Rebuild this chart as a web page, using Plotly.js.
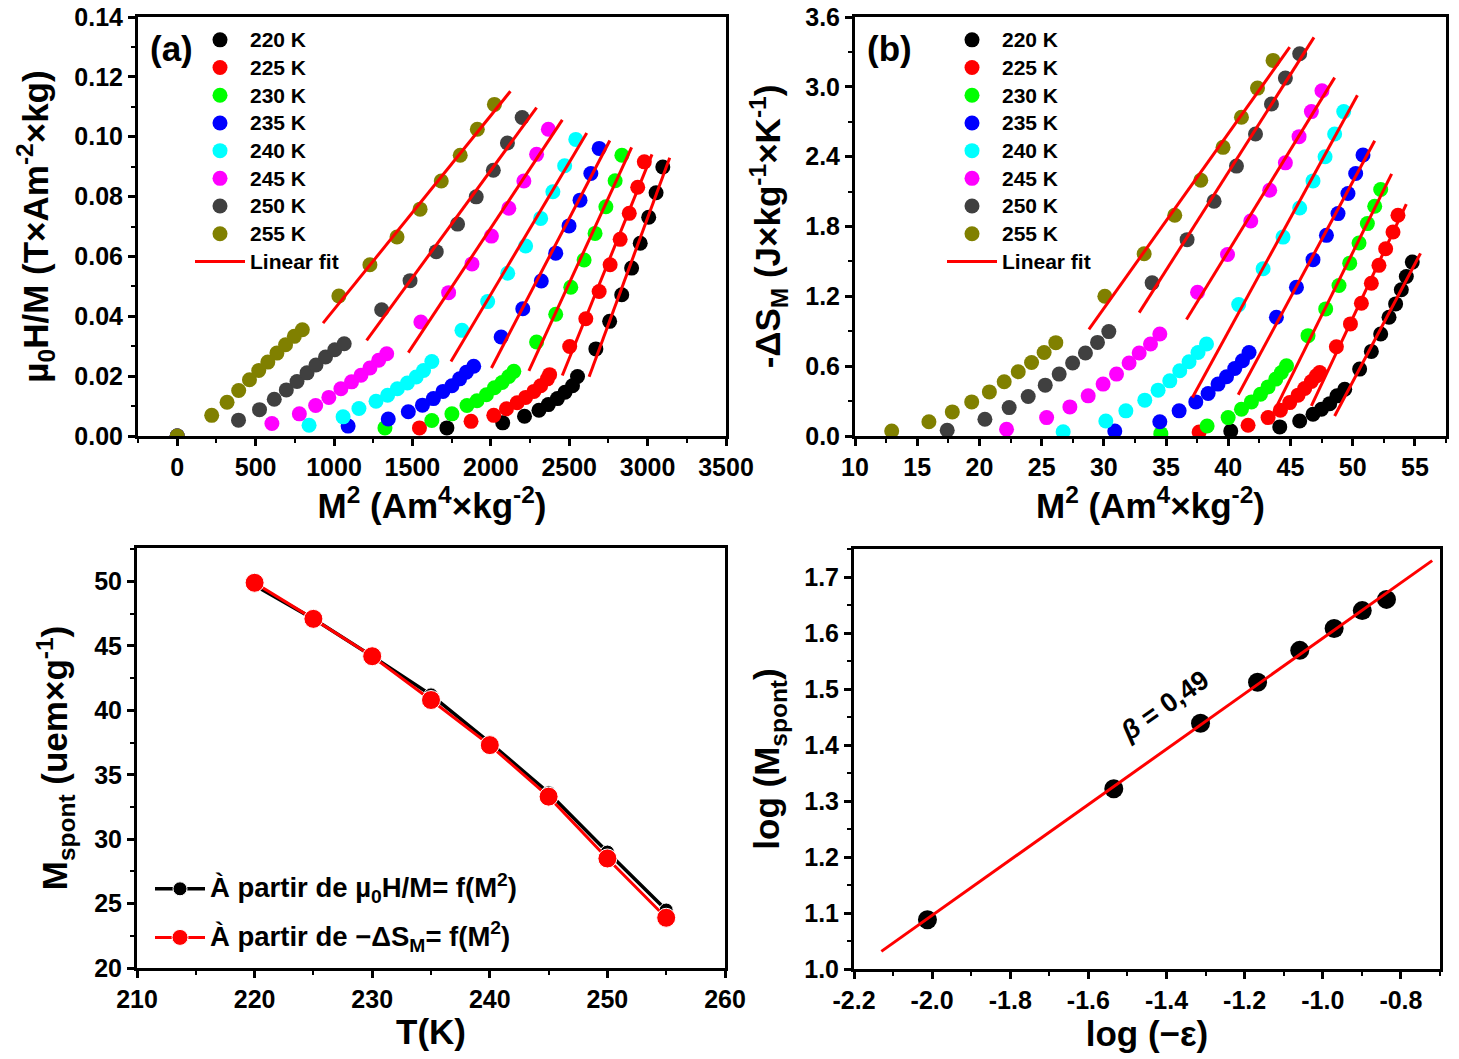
<!DOCTYPE html>
<html>
<head>
<meta charset="utf-8">
<script src="https://cdn.plot.ly/plotly-3.0.1.min.js"></script>
<style>
  html, body { margin: 0; padding: 0; background: #fff; }
  #chart { width: 1459px; height: 1059px; }
</style>
</head>
<body>
<div id="chart"></div>
<script>
// temperatures and marker colours shared by (a) and (b)
const temps = ['220 K', '225 K', '230 K', '235 K', '240 K', '245 K', '250 K', '255 K'];
const tempColors = ['#000000', '#ff0000', '#00ff00', '#0000ff', '#00ffff', '#ff00ff', '#404040', '#808000'];

// (a) mu0H/M vs M^2
const aX = [
  [0, 1720, 2076, 2215, 2307, 2367, 2425, 2473, 2521, 2553, 2670, 2758, 2835, 2898, 2953, 3007, 3054, 3097],
  [0, 1545, 1874, 2019, 2100, 2168, 2222, 2275, 2318, 2361, 2375, 2503, 2606, 2691, 2761, 2825, 2883, 2937, 2979],
  [0, 1325, 1624, 1752, 1848, 1912, 1972, 2023, 2072, 2115, 2147, 2292, 2414, 2510, 2595, 2665, 2734, 2793, 2836],
  [0, 1090, 1346, 1474, 1564, 1634, 1695, 1752, 1801, 1844, 1891, 2066, 2204, 2322, 2414, 2499, 2569, 2638, 2691],
  [0, 841, 1058, 1159, 1268, 1342, 1404, 1468, 1524, 1571, 1624, 1816, 1980, 2108, 2222, 2318, 2396, 2471, 2542],
  [0, 604, 779, 883, 967, 1044, 1112, 1172, 1229, 1285, 1336, 1554, 1731, 1880, 2004, 2115, 2211, 2292, 2367],
  [0, 391, 525, 619, 696, 764, 828, 885, 946, 1005, 1065, 1304, 1485, 1652, 1788, 1907, 2016, 2106, 2200],
  [0, 220, 318, 392, 461, 520, 578, 636, 691, 747, 798, 1031, 1229, 1402, 1549, 1684, 1805, 1914, 2023]
];
const aY = [
  [0, 0.0027, 0.0044, 0.0066, 0.0086, 0.0105, 0.0125, 0.0146, 0.0168, 0.0199, 0.0291, 0.0383, 0.0472, 0.0561, 0.0644, 0.0731, 0.0813, 0.0899],
  [0, 0.0027, 0.0049, 0.0069, 0.0091, 0.0111, 0.0129, 0.0149, 0.0168, 0.0191, 0.0205, 0.0299, 0.0392, 0.0483, 0.0572, 0.0657, 0.0744, 0.0831, 0.0916],
  [0, 0.0027, 0.0052, 0.0074, 0.0102, 0.0118, 0.0138, 0.0161, 0.0179, 0.0199, 0.0216, 0.0314, 0.0407, 0.0497, 0.0588, 0.0677, 0.0766, 0.0853, 0.0938],
  [0, 0.0033, 0.0057, 0.0081, 0.0103, 0.0125, 0.0149, 0.0168, 0.0191, 0.0213, 0.0233, 0.0331, 0.0425, 0.0518, 0.0611, 0.0702, 0.0788, 0.0877, 0.0961],
  [0, 0.0036, 0.0064, 0.0092, 0.0116, 0.0136, 0.0158, 0.0177, 0.0197, 0.0219, 0.0249, 0.0353, 0.0449, 0.0544, 0.0635, 0.0727, 0.0816, 0.0903, 0.0991],
  [0, 0.0042, 0.0074, 0.0102, 0.0129, 0.0158, 0.0181, 0.0203, 0.0227, 0.0253, 0.0275, 0.0381, 0.0479, 0.0575, 0.0668, 0.0761, 0.0852, 0.0941, 0.1025],
  [0, 0.0053, 0.0088, 0.0123, 0.0154, 0.0182, 0.0211, 0.0237, 0.0264, 0.0288, 0.0308, 0.0422, 0.0519, 0.0616, 0.0708, 0.0799, 0.0888, 0.0979, 0.1064],
  [0, 0.0069, 0.0113, 0.0152, 0.0188, 0.0219, 0.0247, 0.0277, 0.0305, 0.0333, 0.0355, 0.0468, 0.0572, 0.0665, 0.0758, 0.0852, 0.0938, 0.1025, 0.1108]
];
const aFitFrom = [10, 11, 11, 11, 11, 11, 11, 11];
const aFitRange = [[2627, 3141], [2456, 3028], [2243, 2898], [2004, 2759], [1746, 2612], [1474, 2456], [1208, 2292], [930, 2125]];

// (b) -dS_M vs M^2
const bX = [
  [40.20, 44.14, 45.74, 46.81, 47.49, 48.15, 48.74, 49.36, 50.56, 51.50, 52.25, 52.92, 53.45, 53.91, 54.31, 54.79],
  [37.66, 41.59, 43.20, 44.19, 44.94, 45.61, 46.14, 46.68, 47.08, 47.35, 48.69, 49.82, 50.70, 51.50, 52.11, 52.65, 53.24, 53.64],
  [34.58, 38.30, 39.99, 41.06, 41.86, 42.59, 43.20, 43.82, 44.27, 44.68, 46.41, 47.83, 48.90, 49.76, 50.51, 51.18, 51.77, 52.25],
  [30.88, 34.50, 36.05, 37.39, 38.38, 39.18, 39.86, 40.52, 41.14, 41.67, 43.87, 45.48, 46.81, 47.89, 48.82, 49.62, 50.24, 50.83],
  [26.73, 30.16, 31.77, 33.29, 34.36, 35.30, 36.10, 36.85, 37.57, 38.25, 40.84, 42.80, 44.40, 45.74, 46.81, 47.78, 48.55, 49.28],
  [22.18, 25.40, 27.27, 28.74, 29.94, 31.02, 32.03, 32.84, 33.75, 34.50, 37.53, 39.94, 41.81, 43.33, 44.59, 45.69, 46.68, 47.53],
  [17.41, 20.44, 22.39, 23.92, 25.29, 26.41, 27.49, 28.52, 29.49, 30.40, 33.88, 36.69, 38.86, 40.66, 42.19, 43.47, 44.59, 45.74],
  [12.95, 15.94, 17.82, 19.38, 20.80, 21.99, 23.12, 24.19, 25.20, 26.14, 30.08, 33.24, 35.70, 37.79, 39.58, 41.06, 42.35, 43.60]
];
const bY = [
  [0.043, 0.078, 0.129, 0.187, 0.230, 0.278, 0.345, 0.402, 0.575, 0.727, 0.877, 1.020, 1.135, 1.256, 1.371, 1.494],
  [0.034, 0.092, 0.158, 0.222, 0.287, 0.351, 0.408, 0.468, 0.517, 0.546, 0.767, 0.963, 1.141, 1.313, 1.466, 1.609, 1.753, 1.897],
  [0.020, 0.086, 0.158, 0.230, 0.293, 0.359, 0.422, 0.489, 0.546, 0.603, 0.862, 1.092, 1.293, 1.485, 1.658, 1.825, 1.974, 2.118],
  [0.043, 0.123, 0.216, 0.293, 0.365, 0.446, 0.509, 0.580, 0.647, 0.718, 1.020, 1.278, 1.515, 1.724, 1.911, 2.084, 2.256, 2.414],
  [0.037, 0.129, 0.216, 0.308, 0.394, 0.474, 0.560, 0.638, 0.718, 0.791, 1.129, 1.437, 1.709, 1.959, 2.192, 2.399, 2.595, 2.787],
  [0.058, 0.158, 0.250, 0.345, 0.446, 0.532, 0.627, 0.713, 0.791, 0.877, 1.235, 1.560, 1.847, 2.112, 2.347, 2.572, 2.787, 2.966],
  [0.049, 0.144, 0.244, 0.339, 0.437, 0.532, 0.627, 0.713, 0.804, 0.897, 1.316, 1.687, 2.017, 2.319, 2.595, 2.853, 3.075, 3.284],
  [0.043, 0.123, 0.207, 0.293, 0.379, 0.466, 0.552, 0.632, 0.718, 0.802, 1.201, 1.566, 1.897, 2.198, 2.480, 2.739, 2.989, 3.227]
];
const bFitFrom = [7, 10, 10, 10, 10, 10, 10, 10];
const bFitRange = [[48.55, 55.45], [46.68, 54.31], [43.47, 53.13], [40.80, 51.77], [37.12, 50.38], [36.64, 48.55], [32.84, 46.89], [28.80, 44.94]];

// (c) spontaneous magnetisation
const cT = [220, 225, 230, 235, 240, 245, 250, 255];
const cFromH = [49.7, 47.1, 44.2, 41.2, 37.5, 33.6, 29.0, 24.5];
const cFromS = [49.9, 47.1, 44.2, 40.8, 37.3, 33.3, 28.5, 23.9];

// (d) log-log plot
const dLogEps = [-2.012, -1.535, -1.313, -1.167, -1.059, -0.971, -0.899, -0.837];
const dLogM = [1.088, 1.322, 1.439, 1.512, 1.569, 1.608, 1.640, 1.660];
const dFitRange = [-2.13, -0.72];
const dTickVals = [-2.2, -2.0, -1.8, -1.6, -1.4, -1.2, -1.0, -0.8];
const dTickText = ['-2.2', '-2.0', '-1.8', '-1.6', '-1.4', '-1.2', '-1.0', '-0.8'];

const FONT = '"Liberation Sans", Arial, sans-serif';
const W = 1459, H = 1059;

function linfit(xs, ys) {
  const n = xs.length;
  let sx = 0, sy = 0, sxx = 0, sxy = 0;
  for (let i = 0; i < n; i++) { sx += xs[i]; sy += ys[i]; sxx += xs[i] * xs[i]; sxy += xs[i] * ys[i]; }
  const slope = (n * sxy - sx * sy) / (n * sxx - sx * sx);
  return { slope: slope, icpt: (sy - slope * sx) / n };
}

// legend row height follows legend font size, so bigger text goes in a span
function big(txt, px) { return '<span style="font-size:' + px + 'px">' + txt + '</span>'; }

const traces = [];

function addArrott(X, Y, fitFrom, fitRange, xa, ya, legendId) {
  temps.forEach((t, i) => {
    traces.push({
      type: 'scatter', mode: 'markers', x: X[i], y: Y[i], name: big(t, 21),
      xaxis: xa, yaxis: ya, legend: legendId,
      marker: { color: tempColors[i], size: 15 },
      hoverinfo: 'skip'
    });
  });
  temps.forEach((t, i) => {
    const f = linfit(X[i].slice(fitFrom[i]), Y[i].slice(fitFrom[i]));
    traces.push({
      type: 'scatter', mode: 'lines',
      x: fitRange[i], y: fitRange[i].map(v => f.icpt + f.slope * v),
      name: big('Linear fit', 21), showlegend: i === 0,
      xaxis: xa, yaxis: ya, legend: legendId,
      line: { color: '#ff0000', width: 3 },
      hoverinfo: 'skip'
    });
  });
}

addArrott(aX, aY, aFitFrom, aFitRange, 'x', 'y', 'legend');
addArrott(bX, bY, bFitFrom, bFitRange, 'x2', 'y2', 'legend2');

traces.push({
  type: 'scatter', mode: 'lines+markers', x: cT, y: cFromH,
  name: big('À partir de µ<sub>0</sub>H/M= f(M<sup>2</sup>)', 27.5),
  xaxis: 'x3', yaxis: 'y3', legend: 'legend3', legendgroup: 'h',
  line: { color: '#000000', width: 3.5 },
  marker: { color: '#000000', size: 14, line: { color: '#ffffff', width: 1 } }
});
traces.push({
  type: 'scatter', mode: 'lines+markers', x: cT, y: cFromS,
  name: big('À partir de −ΔS<sub>M</sub>= f(M<sup>2</sup>)', 27.5),
  xaxis: 'x3', yaxis: 'y3', legend: 'legend3', legendgroup: 's',
  line: { color: '#ff0000', width: 3 },
  marker: { color: '#ff0000', size: 19, line: { color: '#ffffff', width: 1 } }
});

const dFit = linfit(dLogEps, dLogM);
traces.push({
  type: 'scatter', mode: 'markers', x: dLogEps, y: dLogM, showlegend: false,
  xaxis: 'x4', yaxis: 'y4',
  marker: { color: '#000000', size: 19 }
});
traces.push({
  type: 'scatter', mode: 'lines', x: dFitRange, y: dFitRange.map(v => dFit.icpt + dFit.slope * v),
  showlegend: false, xaxis: 'x4', yaxis: 'y4',
  line: { color: '#ff0000', width: 3 }
});

// frame positions in page pixels
function domX(l, r) { return [l / W, r / W]; }
function domY(t, b) { return [1 - b / H, 1 - t / H]; }

function axis(extra) {
  return Object.assign({
    showline: true, linecolor: '#000', linewidth: 3, mirror: true,
    ticks: 'outside', ticklen: 7, tickwidth: 3, tickcolor: '#000',
    showgrid: false, zeroline: false, automargin: false,
    tickfont: { family: FONT, size: 25, color: '#000', weight: 'bold' }
  }, extra);
}
function ttl(text, standoff) {
  return { text: text, standoff: standoff, font: { family: FONT, size: 35, color: '#000', weight: 'bold' } };
}
function minor(d) { return { dtick: d, ticks: 'outside', ticklen: 4, tickwidth: 2, tickcolor: '#000' }; }

const m2Title = 'M<sup>2</sup> (Am<sup>4</sup>×kg<sup>-2</sup>)';
const legFont = { family: FONT, size: 19, color: '#000', weight: 'bold' };

const layout = {
  width: W, height: H,
  margin: { l: 0, r: 0, t: 0, b: 0 },
  paper_bgcolor: '#fff', plot_bgcolor: '#fff',
  font: { family: FONT, color: '#000' },
  xaxis: axis({ domain: domX(138, 726), anchor: 'y', range: [-250, 3500], dtick: 500, minor: minor(250),
    title: ttl(m2Title, 14) }),
  yaxis: axis({ domain: domY(17, 436), anchor: 'x', range: [0, 0.14], dtick: 0.02, tickformat: '.2f', minor: minor(0.01),
    title: ttl('µ<sub>0</sub>H/M (T×Am<sup>-2</sup>×kg)', 16) }),
  xaxis2: axis({ domain: domX(855, 1446), anchor: 'y2', range: [10, 57.5], dtick: 5, minor: minor(2.5),
    title: ttl(m2Title, 14) }),
  yaxis2: axis({ domain: domY(17, 436), anchor: 'x2', range: [0, 3.6], dtick: 0.6, tickformat: '.1f', minor: minor(0.3),
    title: ttl('-ΔS<sub>M</sub> (J×kg<sup>-1</sup>×K<sup>-1</sup>)', 14) }),
  xaxis3: axis({ domain: domX(137, 725), anchor: 'y3', range: [210, 260], dtick: 10, minor: minor(5),
    title: ttl('T(K)', 8) }),
  yaxis3: axis({ domain: domY(548, 968), anchor: 'x3', range: [20, 52.6], dtick: 5, minor: minor(2.5),
    title: ttl('M<sub>spont</sub> (uem×g<sup>-1</sup>)', 16) }),
  xaxis4: axis({ domain: domX(854, 1440), anchor: 'y4', range: [-2.2, -0.7], tickvals: dTickVals, ticktext: dTickText, minor: minor(0.1),
    title: ttl('log (−ε)', 8) }),
  yaxis4: axis({ domain: domY(549, 969), anchor: 'x4', range: [1.0, 1.75], dtick: 0.1, tickformat: '.1f', minor: minor(0.05),
    title: ttl('log (M<sub>spont</sub>)', 14) }),
  legend: { x: 190 / W, y: 1 - 21 / H, xanchor: 'left', yanchor: 'top', bgcolor: 'rgba(0,0,0,0)',
    font: legFont, itemwidth: 50, traceorder: 'normal' },
  legend2: { x: 942 / W, y: 1 - 21 / H, xanchor: 'left', yanchor: 'top', bgcolor: 'rgba(0,0,0,0)',
    font: legFont, itemwidth: 50, traceorder: 'normal' },
  legend3: { x: 150 / W, y: 1 - 868 / H, xanchor: 'left', yanchor: 'top', bgcolor: 'rgba(0,0,0,0)',
    font: { family: FONT, size: 22, color: '#000', weight: 'bold' }, itemwidth: 50,
    traceorder: 'grouped', tracegroupgap: 17 },
  annotations: [
    { xref: 'paper', yref: 'paper', x: 148 / W, y: 1 - 48 / H, xanchor: 'left', yanchor: 'middle', showarrow: false,
      text: '(a)', font: { family: FONT, size: 35, color: '#000', weight: 'bold' } },
    { xref: 'paper', yref: 'paper', x: 865 / W, y: 1 - 48 / H, xanchor: 'left', yanchor: 'middle', showarrow: false,
      text: '(b)', font: { family: FONT, size: 35, color: '#000', weight: 'bold' } },
    { xref: 'x4', yref: 'y4', x: -1.406, y: 1.470, showarrow: false, textangle: -35,
      text: '<i>β</i> = 0,49', font: { family: FONT, size: 27, color: '#000', weight: 'bold' } }
  ],
  showlegend: true
};

Plotly.newPlot('chart', traces, layout, { displayModeBar: false, staticPlot: true });
</script>
</body>
</html>
